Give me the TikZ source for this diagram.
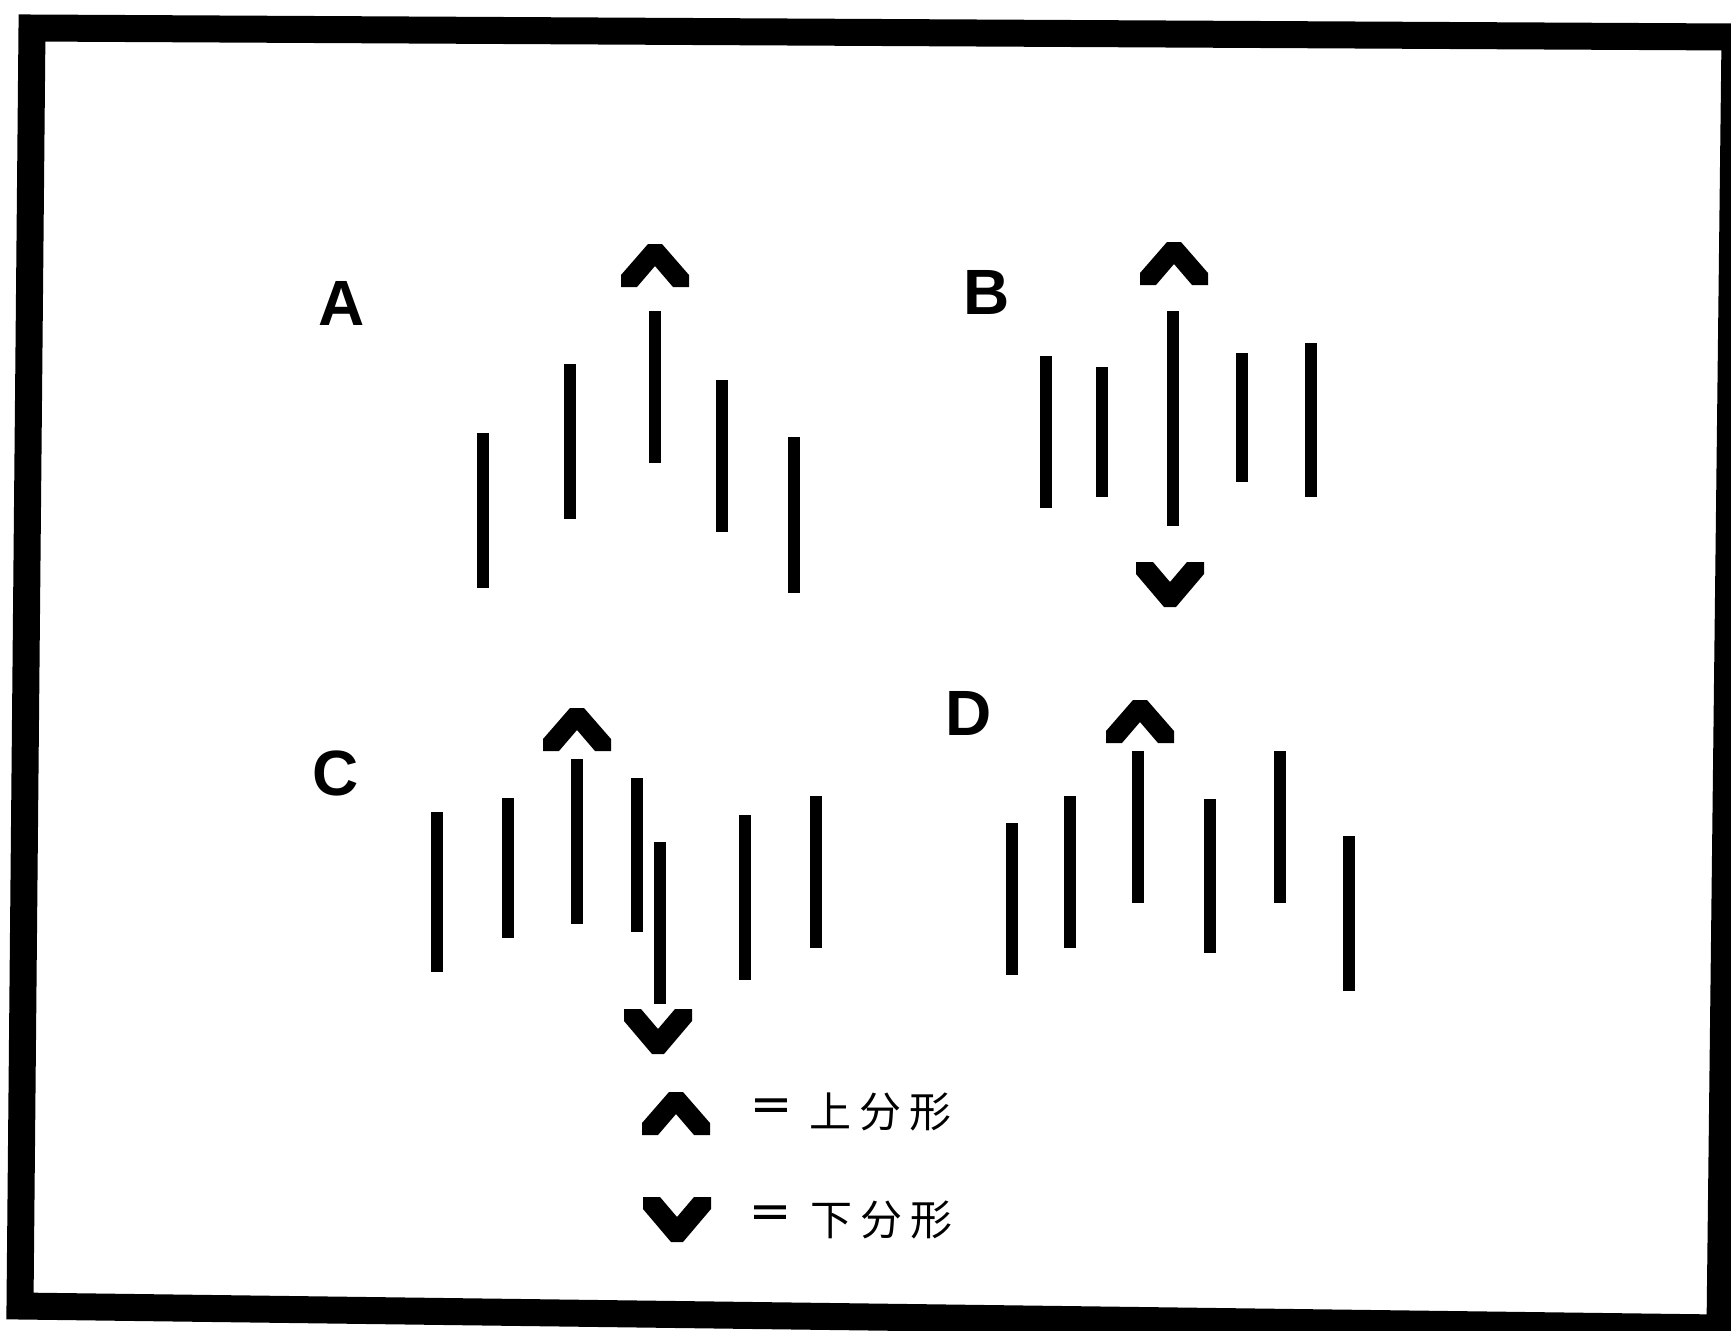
\documentclass[tikz,border=0pt]{standalone}
\usepackage{fontspec}
\setmainfont{Liberation Sans}
\newfontfamily\cjk{Noto Sans CJK SC}
\newfontfamily\cjkbold[FakeBold=3]{Noto Sans CJK SC}
\tikzset{
  bar/.style={line width=6pt, line cap=butt},
  frame/.style={line width=13.5pt, line join=miter},
  letter/.style={inner sep=0pt, font=\fontsize{32}{32}\selectfont\bfseries},
  legtext/.style={inner sep=0pt, font=\fontsize{21}{21}\selectfont\cjk},
  legeq/.style={inner sep=0pt, font=\fontsize{21}{21}\selectfont\cjkbold},
  pics/upc/.style={code={
    \fill (-34,43) -- (-34,31) -- (-7,0) -- (7,0) -- (34,31) -- (34,43) -- (18,43) -- (0,22) -- (-18,43) -- cycle;}},
  pics/downc/.style={code={
    \fill (-34,-45) -- (-17,-45) -- (0,-25) -- (17,-45) -- (34,-45) -- (34,-33) -- (6,0) -- (-6,0) -- (-34,-33) -- cycle;}}
}
\begin{document}
\begin{tikzpicture}[x=0.5pt, y=-0.5pt]
\clip (0,0) rectangle (1731,1330);
\fill[white] (0,0) rectangle (1731,1330);
% frame
\draw[frame] (32,28) -- (1735,37) -- (1720,1328) -- (20,1306) -- cycle;
% letters
\node[letter] (la) at (342,303) {A};
\node[letter] (lb) at (987,292) {B};
\node[letter] (lc) at (336,773) {C};
\node[letter] (ld) at (969,713) {D};
% A bars
\foreach \x/\a/\b in {483/433/588, 570/364/519, 655/311/463, 722/380/532, 794/437/593}
  \draw[bar] (\x,\a) -- (\x,\b);
% B bars
\foreach \x/\a/\b in {1046/356/508, 1102/367/497, 1173/311/526, 1242/353/482, 1311/343/497}
  \draw[bar] (\x,\a) -- (\x,\b);
% C bars
\foreach \x/\a/\b in {437/812/972, 508/798/938, 577/759/924, 637/778/932, 660/842/1004, 745/815/980, 816/796/948}
  \draw[bar] (\x,\a) -- (\x,\b);
% D bars
\foreach \x/\a/\b in {1012/823/975, 1070/796/948, 1138/751/903, 1210/799/953, 1280/751/903, 1349/836/991}
  \draw[bar] (\x,\a) -- (\x,\b);
% carets
\pic at (655,244) {upc};
\pic at (1174,242) {upc};
\pic at (577,708) {upc};
\pic at (1140,700) {upc};
\pic at (676,1092) {upc};
\pic at (1170,607) {downc};
\pic at (658,1054) {downc};
\pic at (677,1242) {downc};
% legend
\node[legeq] (equp) at (771,1110) {＝};
\node[legtext, anchor=west] (txtup) at (809,1112) {上\kern4pt 分\kern4pt 形};
\node[legeq] (eqdn) at (770,1217) {＝};
\node[legtext, anchor=west] (txtdn) at (810,1220) {下\kern4pt 分\kern4pt 形};
\end{tikzpicture}
\end{document}
